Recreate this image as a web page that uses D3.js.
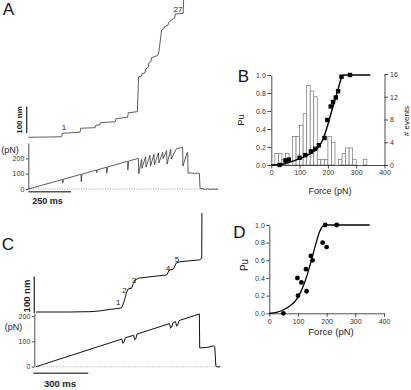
<!DOCTYPE html>
<html lang="en">
<head>
<meta charset="UTF-8">
<title>Unfolding traces and Pu vs force</title>
<script src="https://d3js.org/d3.v7.min.js"></script>
<style>
  body { margin: 0; background: #fff; }
  svg { display: block; font-family: "Liberation Sans", Arial, sans-serif; }
  .tick text { font-size: 7px; fill: #333; }
  .domain, .tick line { stroke: #222; stroke-width: 0.8; }
  .trace { fill: none; stroke-linejoin: round; }
  .letter { font-size: 17px; fill: #111; }
  .bold { font-weight: bold; fill: #222; }
  .small { font-size: 8px; fill: #222; }
  .title { fill: #222; }
</style>
</head>
<body>
<svg id="fig" width="411" height="390"></svg>
<script>
// ---- data (time in ms, extension in nm, force in pN) ----
const aExtension = [
  [0,0],[100,1],[195,2],[199,15],[303,19],[307,34],[391,36],[396,45],[420,47],[424,55],
  [508,58],[514,70],[582,75],[586,92],[639,96],[646,227],[662,229],[666,238],[683,241],
  [688,256],[703,262],[707,280],[718,283],[722,298],[757,306],[762,312],[768,335],[775,372],
  [781,402],[795,408],[799,415],[818,420],[822,430],[835,436],[840,441],[857,446],[861,462],
  [907,464],[911,530],[914,620]
];
const aForce = [
  [0,0],[201,62],[202,40],[206,64],[309,96],[310,48],[314,97],[400,124],[401,107],[405,126],
  [459,142],[460,103],[465,144],[582,181],[583,124],[588,183],[645,200],[647,100],[664,194],
  [666,135],[687,211],[690,144],[713,220],[716,150],[736,226],[739,157],[762,235],[765,170],
  [787,240],[790,200],[810,250],[813,163],[834,259],[837,196],[869,265],[898,270],[904,275],
  [906,150],[930,236],[934,240],[936,103],[955,106],[975,100],[990,104],[1002,102],[1006,5],
  [1020,2],[1035,-2],[1050,1],[1065,-3],[1080,0],[1095,-2],[1113,-1]
];
const cExtension = [
  [0,0],[185,0],[300,1],[349,3],[404,7],[467,11],[480,28],[495,55],[503,63],[522,65],
  [531,78],[540,87],[558,92],[622,96],[713,101],[727,114],[749,117],[764,133],[786,137],
  [891,142],[904,146],[905,270]
];
const cForce = [
  [0,0],[468,109],[474,92],[480,96],[487,114],[532,124],[538,106],[544,110],[551,129],
  [728,170],[734,152],[740,156],[747,174],[761,178],[767,160],[773,164],[780,182],[891,208],
  [893,74],[930,76],[967,82],[975,80],[981,3],[990,-1],[1004,0]
];
const cStepLabels = ["1", "2", "3", "4", "5"];

// panel B: histogram of unfolding forces (bin left edge, count), width 12.5 pN
const histLeft = [12.5,25,37.5,50,62.5,75,87.5,100,112.5,125,137.5,150,162.5,175,187.5,
                  200,212.5,225,237.5,250,262.5,275,287.5,300,312.5,325];
const histCount = [2,2,1,2,0,5,5,7,9,14,13,12,1,1,1,5,4,0,1,2,3,3,1,0,0,1];
const binWidth = 12.5;
const bPu = [[29,0],[50,0.05],[62,0.06],[100,0.08],[120,0.11],[140,0.15],[155,0.18],[168,0.22],
             [188,0.30],[198,0.50],[210,0.65],[218,0.70],[228,0.75],[236,0.82],[248,0.98],[278,1.0]];
const bFit = [[0,0],[30,0.005],[60,0.026],[100,0.07],[140,0.13],[165,0.19],[182,0.28],[200,0.45],
              [218,0.65],[235,0.83],[247,0.96],[256,1.0],[350,1.0]];

// panel D
const dPu = [[49,0],[98,0.40],[100,0.20],[112,0.35],[128,0.50],[130,0.25],[145,0.65],[151,0.60],
             [186,0.80],[200,0.75],[195,1.0],[235,1.0]];
const dFit = [[0,0],[25,0.01],[50,0.04],[75,0.09],[100,0.18],[120,0.32],[140,0.52],[160,0.76],
              [175,0.92],[188,0.99],[200,1],[350,1]];

const forceTicks = [0, 100, 200, 300, 400];
const puTicks = [0, 0.2, 0.4, 0.6, 0.8, 1.0];
const eventTicks = [0, 4, 8, 12, 16];
const traceForceTicks = [0, 100, 200];

const svg = d3.select("#fig");
// labels go in a translated group (keeps small digits greyscale)
const labels = svg.append("g").attr("transform", "translate(0.01,0)");

function text(x, y, str, cls, size, anchor) {
  return labels.append("text").attr("x", x).attr("y", y).attr("class", cls)
    .attr("font-size", size).attr("text-anchor", anchor || "middle").text(str);
}
function vtext(x, y, str, cls, size) {
  return labels.append("text").attr("class", cls).attr("font-size", size)
    .attr("text-anchor", "middle").attr("transform", `translate(${x},${y}) rotate(-90)`).text(str);
}
const line = (xs, ys) => d3.line().x(d => xs(d[0])).y(d => ys(d[1]));

// ================= Panel A =================
const aT = d3.scaleLinear().domain([0, 1113]).range([28.3, 218.3]);
const aE = d3.scaleLinear().domain([0, 100]).range([137.3, 110.6]);
const aF = d3.scaleLinear().domain([0, 300]).range([189, 143.1]);

svg.append("line").attr("x1", aT(0)).attr("x2", aT(1113)).attr("y1", aF(0)).attr("y2", aF(0))
  .attr("stroke", "#888").attr("stroke-width", 0.6).attr("stroke-dasharray", "1.2,1.2");
svg.append("path").attr("class", "trace").attr("d", line(aT, aE)(aExtension))
  .attr("stroke", "#333").attr("stroke-width", 0.8);
svg.append("path").attr("class", "trace").attr("d", line(aT, aF)(aForce))
  .attr("stroke", "#333").attr("stroke-width", 0.8);
svg.append("g").attr("transform", "translate(28.3,0)")
  .call(d3.axisLeft(aF).tickValues(traceForceTicks).tickSize(2.5).tickSizeOuter(0).tickPadding(1.5));

// scale bars
const aBar = aE(0) - aE(100);
svg.append("line").attr("x1", 26.7).attr("x2", 26.7).attr("y1", 133.3).attr("y2", 133.3 - aBar)
  .attr("stroke", "#333").attr("stroke-width", 1.3);
vtext(21.5, 120, "100 nm", "bold", 8);
svg.append("line").attr("x1", aT(0)).attr("x2", aT(250)).attr("y1", 191.7).attr("y2", 191.7)
  .attr("stroke", "#555").attr("stroke-width", 1.6);
text(47.5, 204, "250 ms", "bold", 9);
text(10, 153, "(pN)", "title", 9);
text(64, 130, "1", "small", 8);
text(178, 12, "27", "small", 8);
text(8.5, 15, "A", "letter", 17);

// ================= Panel C =================
const cT = d3.scaleLinear().domain([0, 1020]).range([36, 223]);
const cE = d3.scaleLinear().domain([0, 100]).range([312, 275.3]);
const cF = d3.scaleLinear().domain([0, 210]).range([366.7, 313.5]);

svg.append("line").attr("x1", 34.3).attr("x2", 222).attr("y1", cF(0)).attr("y2", cF(0))
  .attr("stroke", "#888").attr("stroke-width", 0.6).attr("stroke-dasharray", "1.2,1.2");
svg.append("path").attr("class", "trace").attr("d", line(cT, cE)(cExtension))
  .attr("stroke", "#111").attr("stroke-width", 1);
svg.append("path").attr("class", "trace").attr("d", line(cT, cF)(cForce))
  .attr("stroke", "#111").attr("stroke-width", 1);
svg.append("g").attr("transform", "translate(34.3,0)")
  .call(d3.axisLeft(cF).tickValues(traceForceTicks).tickSize(2.5).tickSizeOuter(0).tickPadding(1.5));

const cBar = cE(0) - cE(100);
svg.append("line").attr("x1", 34.3).attr("x2", 34.3).attr("y1", 313.3).attr("y2", 313.3 - cBar)
  .attr("stroke", "#333").attr("stroke-width", 1.3);
vtext(29.5, 296, "100 nm", "bold", 9.5);
svg.append("line").attr("x1", 33.3).attr("x2", 33.3 + (cT(300) - cT(0))).attr("y1", 373.3).attr("y2", 373.3)
  .attr("stroke", "#555").attr("stroke-width", 1.6);
text(60, 387, "300 ms", "bold", 9.5);
text(13.5, 330, "(pN)", "title", 9);
const cLabelPos = [[118.3, 304.5], [124.5, 292.5], [134, 282.5], [168, 271], [177, 262]];
cStepLabels.forEach((s, i) => text(cLabelPos[i][0], cLabelPos[i][1], s, "small", 8));
text(8, 250, "C", "letter", 17);

// ================= Panel B =================
const bX = d3.scaleLinear().domain([0, 400]).range([271.3, 384.5]);
const bY = d3.scaleLinear().domain([0, 1]).range([165, 75]);
const bN = d3.scaleLinear().domain([0, 16]).range([165, 74]);

svg.append("g").selectAll("rect")
  .data(histLeft.map((l, i) => [l, histCount[i]]).filter(d => d[1] > 0))
  .join("rect")
  .attr("x", d => bX(d[0])).attr("width", bX(binWidth) - bX(0))
  .attr("y", d => bN(d[1])).attr("height", d => bN(0) - bN(d[1]))
  .attr("fill", "#fff").attr("stroke", "#777").attr("stroke-width", 0.7);

svg.append("g").attr("transform", "translate(0,165)")
  .call(d3.axisBottom(bX).tickValues(forceTicks).tickSize(3.5).tickSizeOuter(0).tickPadding(2));
svg.append("g").attr("transform", "translate(271.3,0)")
  .call(d3.axisLeft(bY).tickValues(puTicks).tickFormat(d3.format(".1f")).tickSize(4).tickSizeOuter(0).tickPadding(1.5));
svg.append("g").attr("transform", "translate(384.5,0)")
  .call(d3.axisRight(bN).tickValues(eventTicks).tickSize(3.5).tickSizeOuter(0).tickPadding(2));

svg.append("path").attr("class", "trace").attr("d", line(bX, bY).curve(d3.curveMonotoneX)(bFit))
  .attr("stroke", "#000").attr("stroke-width", 1.4);
svg.append("g").selectAll("rect")
  .data(bPu).join("rect")
  .attr("x", d => bX(d[0]) - 2.2).attr("y", d => bY(d[1]) - 2.2)
  .attr("width", 4.4).attr("height", 4.4).attr("fill", "#000");

text(330, 194, "Force (pN)", "title", 9);
vtext(243.5, 120, "Pu", "title", 9.5);
vtext(409, 121, "# events", "title", 8);
text(243.5, 82, "B", "letter", 17);

// ================= Panel D =================
const dX = d3.scaleLinear().domain([0, 400]).range([269.3, 384]);
const dY = d3.scaleLinear().domain([0, 1]).range([313.3, 225]);

svg.append("g").attr("transform", "translate(0,313.3)")
  .call(d3.axisBottom(dX).tickValues(forceTicks).tickSize(3.5).tickSizeOuter(0).tickPadding(2));
svg.append("g").attr("transform", "translate(269.3,0)")
  .call(d3.axisLeft(dY).tickValues(puTicks).tickFormat(d3.format(".1f")).tickSize(3).tickSizeOuter(0).tickPadding(1.5));

svg.append("path").attr("class", "trace").attr("d", line(dX, dY).curve(d3.curveMonotoneX)(dFit))
  .attr("stroke", "#000").attr("stroke-width", 1.3);
svg.append("g").selectAll("circle")
  .data(dPu).join("circle")
  .attr("cx", d => dX(d[0])).attr("cy", d => dY(d[1])).attr("r", 2.4).attr("fill", "#000");

text(331, 335, "Force (pN)", "title", 9.5);
vtext(248, 265, "Pu", "title", 10);
text(239.5, 238, "D", "letter", 17);
</script>
</body>
</html>
